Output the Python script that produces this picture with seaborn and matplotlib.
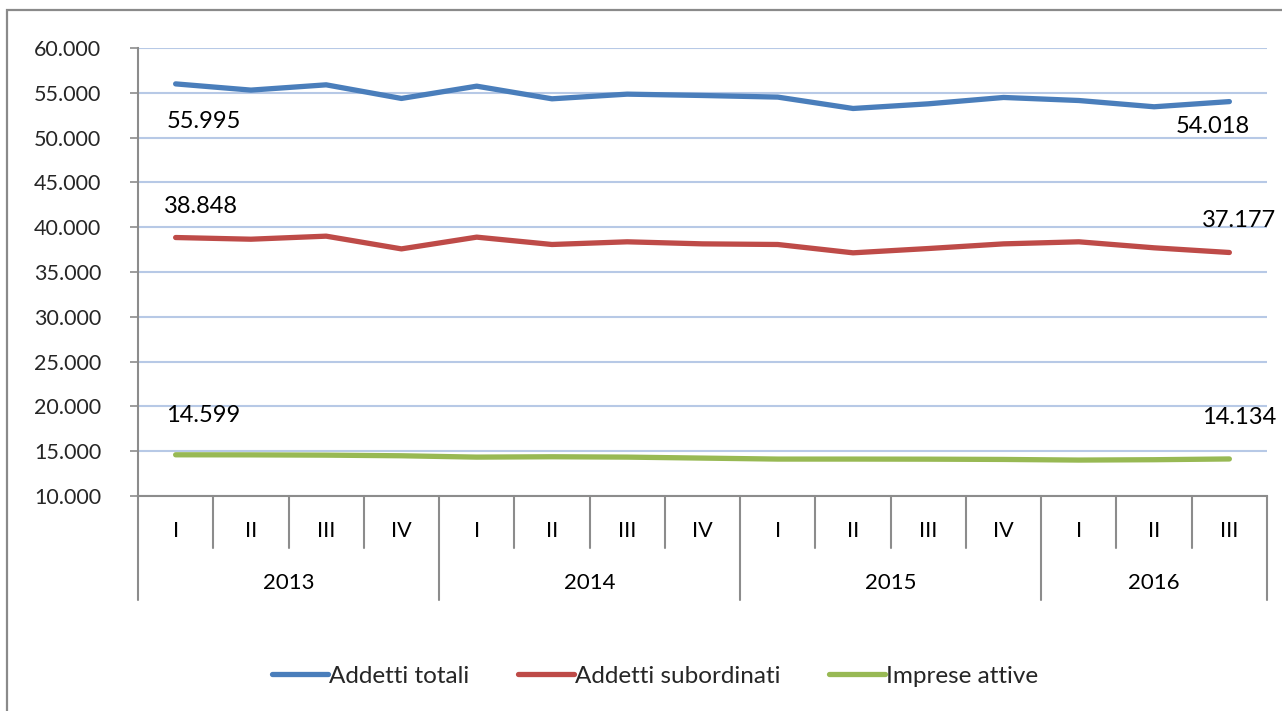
import numpy as np
import pandas as pd
import matplotlib
matplotlib.use("Agg")
import matplotlib.pyplot as plt
from matplotlib.patches import Rectangle
from matplotlib.ticker import FuncFormatter, MultipleLocator
import matplotlib.transforms as mtransforms
import seaborn as sns

# Quarterly series 2013 I - 2016 III
years = ["2013", "2014", "2015", "2016"]
quarters_per_year = [4, 4, 4, 3]
quarter_labels = ["I", "II", "III", "IV", "I", "II", "III", "IV",
                  "I", "II", "III", "IV", "I", "II", "III"]

addetti_totali = [55995, 55300, 55890, 54370, 55740, 54330, 54850, 54700,
                  54520, 53250, 53770, 54480, 54140, 53440, 54018]
addetti_subordinati = [38848, 38660, 39000, 37580, 38890, 38070, 38370, 38140,
                       38070, 37140, 37620, 38140, 38370, 37700, 37177]
imprese_attive = [14599, 14590, 14560, 14490, 14340, 14380, 14340, 14230,
                  14120, 14120, 14110, 14080, 14010, 14050, 14134]

series_names = ["Addetti totali", "Addetti subordinati", "Imprese attive"]
series_values = [addetti_totali, addetti_subordinati, imprese_attive]
colors = ["#4A7EBB", "#BE4B48", "#98B954"]

sns.set_style("white")
plt.rcParams["font.family"] = ["Lato", "DejaVu Sans"]

W, H = 1282, 711
fig = plt.figure(figsize=(W / 100, H / 100), dpi=100)
left, right, top, bottom = 138, 1267, 48, 496
ax = fig.add_axes([left / W, 1 - bottom / H, (right - left) / W, (bottom - top) / H])

n = len(quarter_labels)
df = pd.concat([
    pd.DataFrame({"pos": np.arange(n), "valore": vals, "serie": name})
    for name, vals in zip(series_names, series_values)
], ignore_index=True)

sns.lineplot(data=df, x="pos", y="valore", hue="serie", hue_order=series_names,
             palette=colors, linewidth=3.8, ax=ax)
for ln in ax.get_lines():
    ln.set_solid_capstyle("round")
    ln.set_solid_joinstyle("round")

grid_col = "#B7C9E6"
axis_col = "#8C8C8C"
fs = 15.5
fs_label = 17
fs_legend = 17.5

ax.set_xlim(-0.5, n - 0.5)
ax.set_ylim(10000, 60000)
ax.yaxis.set_major_locator(MultipleLocator(5000))
ax.yaxis.set_major_formatter(FuncFormatter(lambda v, p: f"{v:,.0f}".replace(",", ".")))
ax.yaxis.grid(True, color=grid_col, linewidth=1.5)
ax.set_axisbelow(True)
ax.tick_params(axis="y", direction="out", length=6, width=1.2, color=axis_col,
               labelsize=fs, pad=20.5, left=True)
ax.set_xticks([])
ax.set_xlabel("")
ax.set_ylabel("")
for side in ["top", "right"]:
    ax.spines[side].set_visible(False)
for side in ["left", "bottom"]:
    ax.spines[side].set_color(axis_col)
    ax.spines[side].set_linewidth(1.5)

# Two-level category axis: quarters, then years
ax_h = bottom - top
row1 = -52 / ax_h
row2 = -104 / ax_h
trans = mtransforms.blended_transform_factory(ax.transData, ax.transAxes)
for i, q in enumerate(quarter_labels):
    ax.text(i, -35 / ax_h, q, transform=trans, ha="center", va="center",
            fontsize=fs, color="black")
bounds = np.cumsum([0] + quarters_per_year) - 0.5
for k in range(n + 1):
    xk = k - 0.5
    y_end = row2 if xk in bounds else row1
    ax.plot([xk, xk], [0, y_end], transform=trans, color=axis_col,
            linewidth=1.5, clip_on=False)
for y, a, b in zip(years, bounds[:-1], bounds[1:]):
    ax.text((a + b) / 2, -87 / ax_h, y, transform=trans, ha="center",
            va="center", fontsize=fs + 0.5, color="black")

# Value labels on first and last points
fmt = lambda v: f"{v:,.0f}".replace(",", ".")
offsets = [((28, -38), (-17, -25)),
           ((25, 31), (10, 32)),
           ((28, 39), (10, 41))]
for vals, (o_first, o_last) in zip(series_values, offsets):
    ax.annotate(fmt(vals[0]), (0, vals[0]), xytext=o_first,
                textcoords="offset pixels", ha="center", va="center",
                fontsize=fs_label, color="black", annotation_clip=False)
    ax.annotate(fmt(vals[-1]), (n - 1, vals[-1]), xytext=o_last,
                textcoords="offset pixels", ha="center", va="center",
                fontsize=fs_label, color="black", annotation_clip=False)

handles, labels = ax.get_legend_handles_labels()
ax.legend(handles, labels, loc="center", bbox_to_anchor=(655 / W, 1 - 676 / H),
          bbox_transform=fig.transFigure, ncol=3, frameon=False,
          fontsize=fs_legend, handlelength=2.3, handletextpad=0.05,
          columnspacing=2.0)

# Chart area frame
fig.patches.append(Rectangle((7 / W, -0.2), 1.2, 1.2 - 10 / H,
                             transform=fig.transFigure, fill=False,
                             edgecolor="#8A8A8A", linewidth=1.6))

fig.savefig("out.png", dpi=100)
